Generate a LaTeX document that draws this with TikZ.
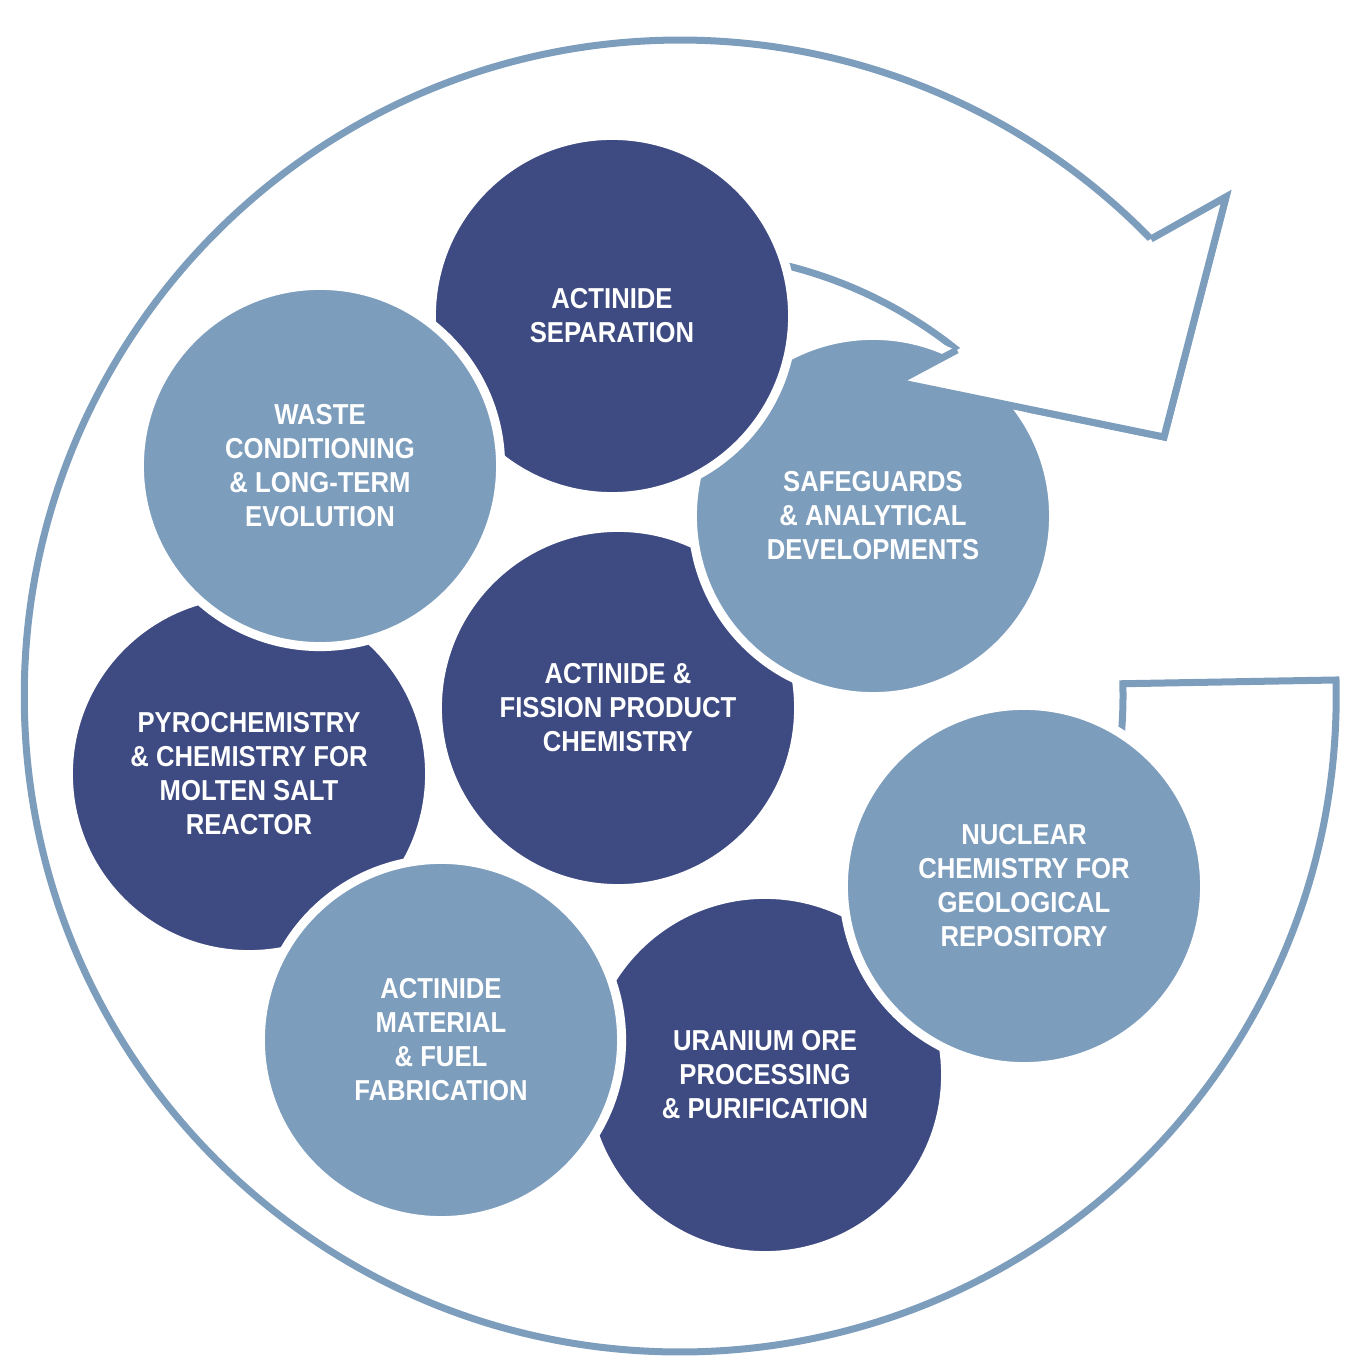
\documentclass[tikz,border=0pt]{standalone}
\usepackage{fontspec}
\setmainfont{Liberation Sans}[FakeStretch=0.89]
\usepackage{tikz}
\definecolor{navy}{RGB}{62,74,130}
\definecolor{steel}{RGB}{125,157,189}
\tikzset{
  topic/.style={circle, minimum size=3.61cm, inner sep=0pt, draw=white,
    line width=0.09cm, text=white, align=center,
    font=\bfseries\fontsize{8.2}{9.67}\selectfont},
  darktopic/.style={topic, fill=navy},
  lighttopic/.style={topic, fill=steel},
  band/.style={draw=steel, line width=0.07cm, line join=miter}
}
\begin{document}
\begin{tikzpicture}[x=0.01cm,y=0.01cm]
  \useasboundingbox (0,0) rectangle (1360,1360);
  %arrow head and tail
  \coordinate (headout) at (1151,1121);
  \coordinate (barbout) at (1226,1163);
  \coordinate (tip) at (1164,923);
  \coordinate (barbin) at (897,978);
  \coordinate (headin) at (957,1010);
  \coordinate (tailout) at (1336,680);
  %cycle band
  \draw[band] (tailout) arc[start angle=1.4, end angle=-315.9, radius=656]
    -- (barbout) -- (tip) -- (barbin) -- (headin)
    arc[start angle=51.3, end angle=361.55, radius=443] -- cycle;
  %topics
  \node[darktopic] (fission) at (618,652) {ACTINIDE \&\\FISSION PRODUCT\\CHEMISTRY};
  \node[lighttopic] (safeguards) at (873,844) {SAFEGUARDS\\\& ANALYTICAL\\DEVELOPMENTS};
  \node[darktopic] (separation) at (612,1044) {ACTINIDE\\SEPARATION};
  \node[darktopic] (pyro) at (249,586) {PYROCHEMISTRY\\\& CHEMISTRY FOR\\MOLTEN SALT\\REACTOR};
  \node[lighttopic] (waste) at (320,894) {WASTE\\CONDITIONING\\\& LONG-TERM\\EVOLUTION};
  \node[darktopic] (uranium) at (765,285) {URANIUM ORE\\PROCESSING\\\& PURIFICATION};
  \node[lighttopic] (fuel) at (441,320) {ACTINIDE\\MATERIAL\\\& FUEL\\FABRICATION};
  \node[lighttopic] (geology) at (1024,474) {NUCLEAR\\CHEMISTRY FOR\\GEOLOGICAL\\REPOSITORY};
  %head over safeguards
  \fill[white] (headout) -- (barbout) -- (tip) -- (barbin) -- (headin) -- cycle;
  \draw[band] (headout) -- (barbout) -- (tip) -- (barbin) -- (headin);
\end{tikzpicture}
\end{document}
